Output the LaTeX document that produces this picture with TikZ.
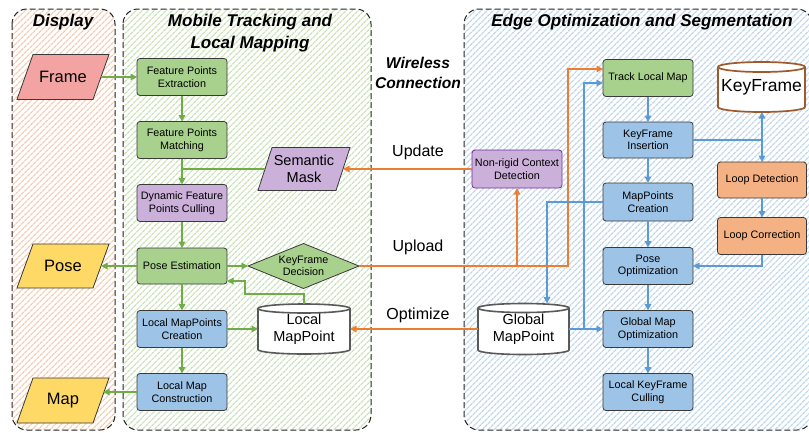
\documentclass[tikz,border=0pt]{standalone}
\usepackage{fontspec}
\setmainfont{Liberation Sans}
\usetikzlibrary{arrows.meta,shapes.geometric,patterns.meta,calc}
\pgfdeclarelayer{panel}
\pgfdeclarelayer{shapes}
\pgfsetlayers{panel,shapes,main}

\definecolor{gfill}{HTML}{A9D18E}
\definecolor{bfill}{HTML}{9DC3E6}
\definecolor{pfill}{HTML}{CBB0DA}
\definecolor{ofill}{HTML}{F4B183}
\definecolor{yfill}{HTML}{FFD966}
\definecolor{rfill}{HTML}{F4A3A3}
\definecolor{garr}{HTML}{70AD47}
\definecolor{barr}{HTML}{5B9BD5}
\definecolor{oarr}{HTML}{ED7D31}
\definecolor{bord}{HTML}{3A3A3A}
\definecolor{purpbord}{HTML}{7030A0}
\definecolor{cylgray}{HTML}{595959}
\definecolor{cylbrown}{HTML}{9E5A2A}
\definecolor{hatchO}{HTML}{F8CBAD}
\definecolor{hatchG}{HTML}{C9E2B8}
\definecolor{hatchB}{HTML}{BDD7EE}

\tikzset{
  boxnode/.style={draw=bord, line width=0.8pt, rounded corners=3pt, minimum width=90pt,
    minimum height=37pt, align=center, inner sep=1pt, outer sep=0pt,
    font=\fontsize{10.8}{12.5}\selectfont},
  gbox/.style={boxnode, fill=gfill},
  bbox/.style={boxnode, fill=bfill},
  pbox/.style={boxnode, fill=pfill},
  obox/.style={boxnode, fill=ofill},
  holder/.style={inner sep=0pt, outer sep=0pt, align=center},
  shapeline/.style={draw=bord, line width=0.8pt},
  bigtext/.style={font=\fontsize{16.5}{19}\selectfont},
  cyltext/.style={font=\fontsize{14.5}{17}\selectfont},
  smalltext/.style={font=\fontsize{10.8}{12.5}\selectfont, align=center},
  ptitle/.style={font=\fontsize{17}{22}\bfseries\itshape\selectfont, align=center},
  linklabel/.style={font=\fontsize{16}{19}\selectfont},
  conn/.style={line width=1.5pt},
  garrow/.style={conn, draw=garr, -{Triangle[length=6.5pt,width=6.5pt]}},
  gline/.style={conn, draw=garr},
  barrow/.style={conn, draw=barr, -{Triangle[length=6.5pt,width=6.5pt]}},
  bline/.style={conn, draw=barr},
  oarrow/.style={conn, draw=oarr, -{Triangle[length=6.5pt,width=6.5pt]}},
  oline/.style={conn, draw=oarr},
  panelline/.style={draw=black!85, line width=1pt, dash pattern=on 6pt off 3pt},
}

\newcommand{\drawpara}[3]{%
  \begin{pgfonlayer}{shapes}
  \draw[shapeline, fill=#2] (#1.south west) -- ([xshift=#3]#1.north west) -- (#1.north east)
     -- ([xshift=-#3]#1.south east) -- cycle;
  \end{pgfonlayer}}
\newcommand{\drawcyl}[5]{%
  \begin{pgfonlayer}{shapes}
  \draw[draw=#2, line width=#5, fill=white] (#1.north west) -- (#1.south west)
     arc[start angle=180, end angle=360, x radius=#3, y radius=#4] -- (#1.north east)
     arc[start angle=0, end angle=180, x radius=#3, y radius=#4] -- cycle;
  \draw[draw=#2, line width=#5] (#1.north west) arc[start angle=180, end angle=360, x radius=#3, y radius=#4];
  \end{pgfonlayer}}
\newcommand{\panelat}[5]{%
  \begin{pgfonlayer}{panel}
  \fill[white, rounded corners=15pt] (#1,#2) rectangle (#3,#4);
  \fill[rounded corners=15pt, pattern={Lines[angle=45,distance=4pt,line width=1.3pt]}, pattern color=#5] (#1,#2) rectangle (#3,#4);
  \draw[panelline, rounded corners=15pt] (#1,#2) rectangle (#3,#4);
  \end{pgfonlayer}}

\begin{document}
\begin{tikzpicture}[x=1pt,y=-1pt]
\useasboundingbox (0,0) rectangle (809,432);

% panels
\panelat{12}{9}{115}{430}{hatchO}
\panelat{123}{9}{371}{430}{hatchG}
\panelat{464}{9}{812}{430}{hatchB}

\node[ptitle] (tdisp) at (63,22) {Display};
\node[ptitle] (tmob) at (250,33) {Mobile Tracking and\\Local Mapping};
\node[ptitle] (tedge) at (642,22) {Edge Optimization and Segmentation};
\node[ptitle, font=\fontsize{15.6}{20}\bfseries\itshape\selectfont] (twire) at (418,73) {Wireless\\Connection};

% left column
\node[holder, minimum width=92pt, minimum height=45pt, bigtext] (frame) at (63,77) {Frame};
\drawpara{frame}{rfill}{16pt}
\node[holder, minimum width=92pt, minimum height=44pt, bigtext] (pose) at (63,266) {Pose};
\drawpara{pose}{yfill}{16pt}
\node[holder, minimum width=92pt, minimum height=45pt, bigtext] (map) at (63,400.5) {Map};
\drawpara{map}{yfill}{16pt}
\coordinate (maptip) at (103,392);

% middle column
\node[gbox] (fpe) at (182,77) {Feature Points\\Extraction};
\node[gbox] (fpm) at (182,140) {Feature Points\\Matching};
\node[pbox] (dfc) at (182,203) {Dynamic Feature\\Points Culling};
\node[gbox, minimum height=36pt] (pe) at (182,266) {Pose Estimation};
\node[bbox] (lmc) at (182,329) {Local MapPoints\\Creation};
\node[bbox] (lmcon) at (182,392) {Local Map\\Construction};

\node[holder, minimum width=92pt, minimum height=43pt, cyltext] (sm) at (304,169) {Semantic\\Mask};
\drawpara{sm}{pfill}{14pt}

\node[diamond, draw=bord, line width=0.8pt, fill=gfill, minimum width=111pt, minimum height=45pt, inner sep=0pt, outer sep=0pt] (kfd) at (303.5,266) {};
\node[smalltext] (kfdtext) at (kfd) {KeyFrame\\Decision};

\node[holder, minimum width=92pt, minimum height=41pt, cyltext] (lmp) at (304,329) {Local\\MapPoint};
\drawcyl{lmp}{cylgray}{46pt}{4.5pt}{1.6pt}

% wireless labels
\node[linklabel] (lupd) at (418,152) {Update};
\node[linklabel] (lupl) at (418,247) {Upload};
\node[linklabel] (lopt) at (418,315) {Optimize};

% right side
\node[pbox, draw=purpbord, minimum height=38pt] (nrc) at (517,169) {Non-rigid Context\\Detection};
\node[holder, minimum width=91pt, minimum height=42pt, cyltext] (gmp) at (523.5,329) {Global\\MapPoint};
\drawcyl{gmp}{cylgray}{45.5pt}{4.5pt}{1.6pt}

\node[gbox] (tlm) at (648,78) {Track Local Map};
\node[bbox, minimum height=36pt] (kfi) at (648,140) {KeyFrame\\Insertion};
\node[bbox, minimum height=38pt] (mpc) at (648,202) {MapPoints\\Creation};
\node[bbox] (po) at (648,266) {Pose\\Optimization};
\node[bbox] (gmo) at (648,329) {Global Map\\Optimization};
\node[bbox] (lkc) at (648,392) {Local KeyFrame\\Culling};

\node[holder, minimum width=87pt, minimum height=40pt, font=\fontsize{17.5}{20}\selectfont] (kf) at (761.5,87) {KeyFrame};
\drawcyl{kf}{cylbrown}{43.5pt}{5pt}{1.7pt}
\node[obox, minimum width=89pt, minimum height=36pt] (ld) at (762,180) {Loop Detection};
\node[obox, minimum width=89pt, minimum height=37pt] (lc) at (762,236) {Loop Correction};

% green connectors
\draw[garrow] ([xshift=-8pt]frame.east) -- (fpe.west);
\draw[garrow] (fpe) -- (fpm);
\draw[garrow] (fpm) -- (dfc);
\draw[gline] ([xshift=7pt]sm.west) -- (sm.west -| dfc.north);
\draw[garrow] (dfc) -- (pe);
\draw[garrow] (pe.west) -- ([xshift=-8pt]pose.east);
\draw[garrow] (pe.east) -- (kfd.west);
\draw[garrow] (pe) -- (lmc);
\draw[garrow] (lmc) -- (lmcon);
\draw[garrow] (lmc.east) -- (lmp.west);
\draw[garrow] (lmcon.west) -- (maptip);
\coordinate (g1) at (304,294);
\coordinate (g2) at (245,294);
\coordinate (g3) at (245,281);
\draw[garrow] ([yshift=4.5pt]lmp.north) -- (g1) -- (g2) -- (g3) -- (g3 -| pe.east);

% orange connectors
\draw[oarrow] (nrc.west) -- ([xshift=-7pt]sm.east |- nrc.west);
\coordinate (obr) at (568,266);
\coordinate (obl) at (nrc.south |- kfd.east);
\draw[oarrow] (kfd.east) -- (obr) |- ([yshift=9pt]tlm.west);
\draw[oarrow] (obl) -- (nrc.south);
\draw[oarrow] (gmp.west) -- (lmp.east);

% blue connectors
\draw[barrow] (tlm) -- (kfi);
\draw[barrow] (kfi) -- (mpc);
\draw[barrow] (mpc) -- (po);
\draw[barrow] (po) -- (gmo);
\draw[barrow] (gmo) -- (lkc);
\coordinate (kfj) at (ld.north |- kfi.east);
\draw[bline] (kfi.east) -- (kfj);
\draw[barrow] (kfj) -- ([yshift=-5pt]kfj |- kf.south);
\draw[barrow] (kfj) -- (ld.north);
\draw[barrow] (ld) -- (lc);
\draw[barrow] (lc.south) |- (po.east);
\coordinate (bc1) at (547,202);
\draw[barrow] (mpc.west) -- (bc1) -- ([yshift=4.5pt]bc1 |- gmp.north);
\draw[barrow] (gmp.east) -- (gmo.west);
\coordinate (bv) at (584,329);
\draw[barrow] (bv) |- ([yshift=-5pt]tlm.west);

% crossing marks
\fill[barr] (568,202) circle (1.7pt);
\fill[barr] (584,202) circle (1.7pt);
\fill[oarr] (547,266) circle (1.7pt);
\end{tikzpicture}
\end{document}
